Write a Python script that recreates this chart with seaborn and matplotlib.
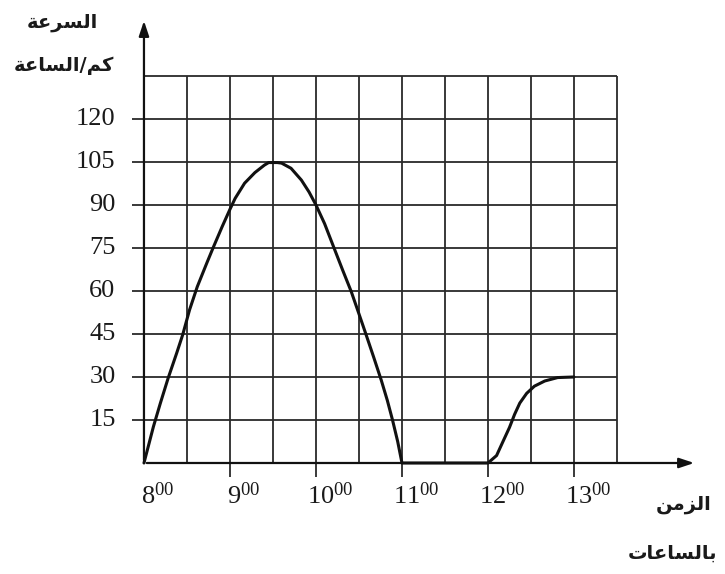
import matplotlib
matplotlib.use("Agg")
import matplotlib.pyplot as plt
import seaborn as sns

# speed (km/h), time in hours
time = [8.0, 8.11, 8.19, 8.28, 8.38, 8.45, 8.53, 8.62, 8.73, 8.81, 8.91,
        9.0, 9.06, 9.17, 9.29, 9.4, 9.45, 9.55, 9.6, 9.71, 9.83, 9.92,
        10.0, 10.1, 10.21, 10.31, 10.41, 10.5, 10.58, 10.67, 10.76, 10.83,
        10.89, 10.95, 11.0,
        12.0, 12.1, 12.17, 12.25, 12.31, 12.37, 12.45, 12.54, 12.66, 12.81, 13.0]
speed = [0, 12.7, 20.8, 29.5, 38.3, 44.7, 53.4, 61.5, 69.7, 75.5, 82.5,
         88.5, 92.3, 97.6, 101.3, 103.9, 104.8, 104.8, 104.6, 102.8, 98.7, 94.5,
         90, 83.5, 75, 67.3, 59.8, 52, 45, 37, 28.8, 21.8,
         15, 7.5, 0,
         0, 2.6, 7.2, 12.4, 17.0, 20.9, 24.3, 26.8, 28.6, 29.8, 30]

x_ticks = [8, 9, 10, 11, 12, 13]
x_tick_labels = ["8", "9", "10", "11", "12", "13"]
x_grid = [8.5, 9, 9.5, 10, 10.5, 11, 11.5, 12, 12.5, 13, 13.5]
y_ticks = [15, 30, 45, 60, 75, 90, 105, 120]
y_top = 135
x_right = 13.5

y_title = ["السرعة", "كم/الساعة"]
x_title = ["الزمن", "بالساعات"]

sns.set_style("white")
plt.rcParams["font.family"] = ["Liberation Serif", "DejaVu Serif"]
plt.rcParams["mathtext.default"] = "regular"

# ---- simple arabic shaping (matplotlib has no bidi / joining) ----
forms = {
    "ا": ("\uFE8D", "\uFE8E", None, None),
    "ل": ("\uFEDD", "\uFEDE", "\uFEDF", "\uFEE0"),
    "س": ("\uFEB1", "\uFEB2", "\uFEB3", "\uFEB4"),
    "ر": ("\uFEAD", "\uFEAE", None, None),
    "ع": ("\uFEC9", "\uFECA", "\uFECB", "\uFECC"),
    "ة": ("\uFE93", "\uFE94", None, None),
    "ك": ("\uFED9", "\uFEDA", "\uFEDB", "\uFEDC"),
    "م": ("\uFEE1", "\uFEE2", "\uFEE3", "\uFEE4"),
    "ز": ("\uFEAF", "\uFEB0", None, None),
    "ن": ("\uFEE5", "\uFEE6", "\uFEE7", "\uFEE8"),
    "ب": ("\uFE8F", "\uFE90", "\uFE91", "\uFE92"),
    "ت": ("\uFE95", "\uFE96", "\uFE97", "\uFE98"),
}


def shape(s):
    out = []
    for i, c in enumerate(s):
        if c not in forms:
            out.append(c)
            continue
        prev = s[i - 1] if i > 0 else None
        nxt = s[i + 1] if i < len(s) - 1 else None
        join_prev = prev in forms and forms[prev][2] is not None
        join_next = nxt in forms and forms[c][2] is not None
        iso, fin, ini, med = forms[c]
        if join_prev and join_next:
            out.append(med)
        elif join_prev:
            out.append(fin)
        elif join_next:
            out.append(ini)
        else:
            out.append(iso)
    return "".join(out)[::-1]


fig = plt.figure(figsize=(7.25, 5.74), dpi=100)
ax = fig.add_axes([0, 0, 1, 1])
ax.set_xlim(6.326, 14.756)
ax.set_ylim(-38.72, 161.5)
ax.axis("off")

grid_kw = dict(color="#2a2a2a", lw=1.3, zorder=1)
# horizontal grid lines, poking out left of the axis like ticks
ax.hlines(y_ticks, 8 - 0.14, x_right, **grid_kw)
ax.hlines([y_top], 8, x_right, **grid_kw)
# vertical grid lines, whole hours poke below the axis
for xv in x_grid:
    low = -5 if xv in x_ticks else 0
    ax.vlines(xv, low, y_top, **grid_kw)

# axes with arrows
arrow = dict(arrowstyle="-|>,head_length=0.9,head_width=0.3", color="#111111", lw=1.6)
ax.annotate("", xy=(14.43, 0), xytext=(8, 0), arrowprops=arrow, zorder=3)
ax.annotate("", xy=(8, 155.2), xytext=(8, 0), arrowprops=arrow, zorder=3)

sns.lineplot(x=time, y=speed, sort=False, estimator=None, color="#111111",
             lw=2.2, ax=ax, zorder=4)

for v in y_ticks:
    ax.text(8 - 0.33, v, str(v), ha="right", va="center", fontsize=19,
            color="#1a1a1a")

for v, lab in zip(x_ticks, x_tick_labels):
    ax.text(v + 0.16, -11.5, "$" + lab + "^{00}$", ha="center", va="center",
            fontsize=19, color="#1a1a1a")

ar_kw = dict(ha="center", va="center", fontsize=14, fontweight="bold",
             family=["DejaVu Sans"], color="#1a1a1a")
ax.text(7.05, 153.8, shape(y_title[0]), **ar_kw)
ax.text(7.07, 138.8, shape(y_title[1]), **ar_kw)
ax.text(14.27, -14.65, shape(x_title[0]), **ar_kw)
ax.text(14.14, -31.4, shape(x_title[1]), **ar_kw)

fig.savefig("out.png", dpi=100, facecolor="white")
